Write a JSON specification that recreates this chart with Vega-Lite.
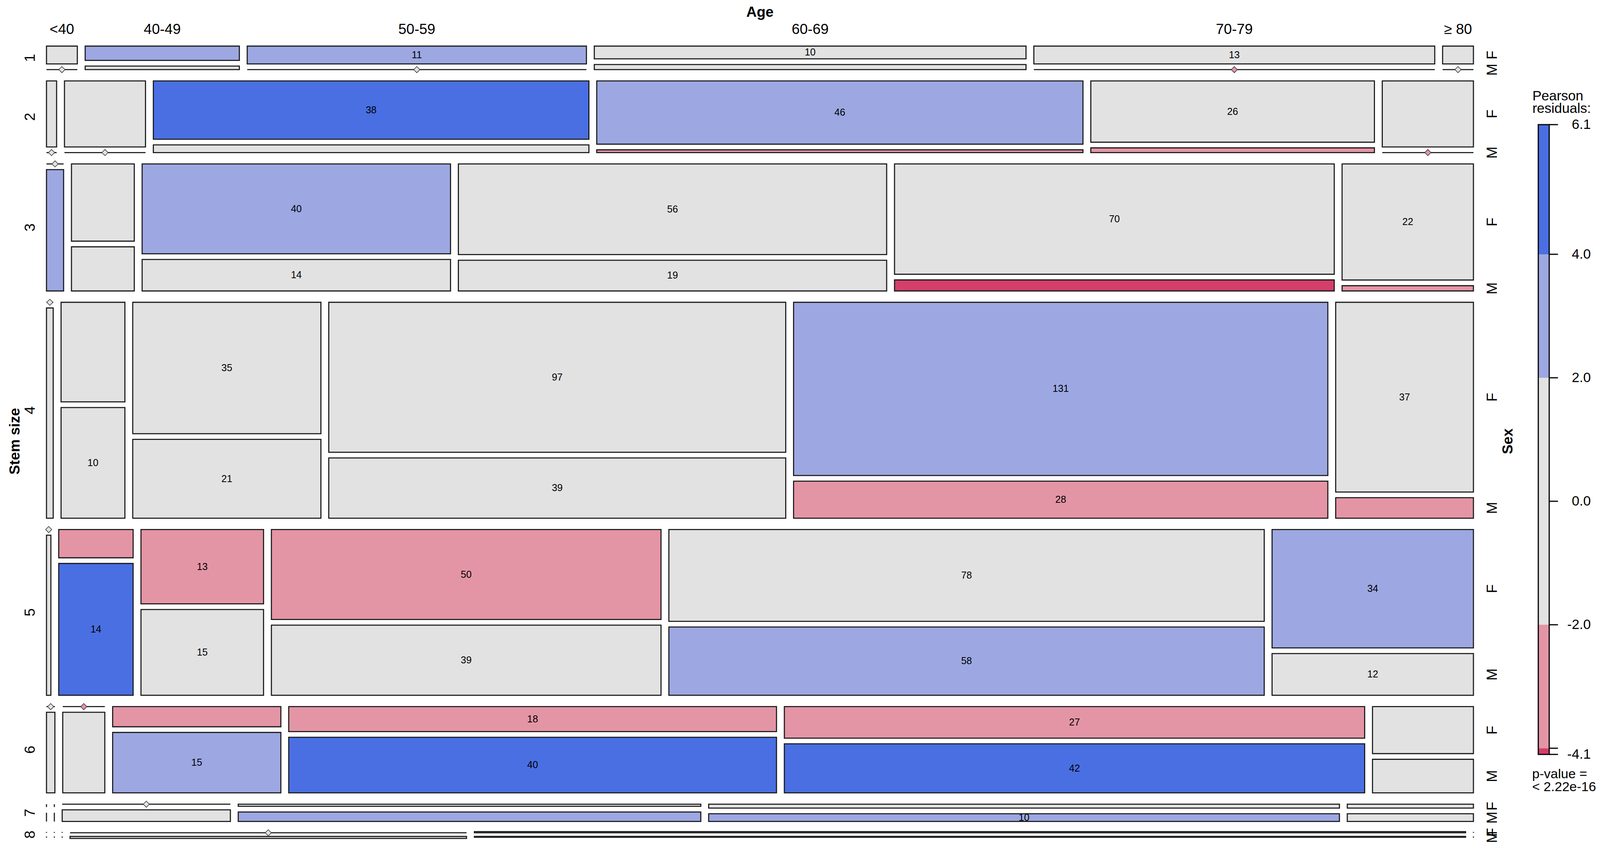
{
  "$schema": "https://vega.github.io/schema/vega-lite/v6.json",
  "width": 4375,
  "height": 2168,
  "autosize": {"type": "fit", "contains": "padding"},
  "padding": 0,
  "background": "white",
  "config": {"view": {"stroke": null}, "font": "Liberation Sans", "text": {"font": "Liberation Sans"}},
  "datasets": {
    "cells": [
      {"stem":1,"age":"<40","sex":"F","n":1},{"stem":1,"age":"<40","sex":"M","n":0},
      {"stem":1,"age":"40-49","sex":"F","n":4},{"stem":1,"age":"40-49","sex":"M","n":1},
      {"stem":1,"age":"50-59","sex":"F","n":11},{"stem":1,"age":"50-59","sex":"M","n":0},
      {"stem":1,"age":"60-69","sex":"F","n":10},{"stem":1,"age":"60-69","sex":"M","n":4},
      {"stem":1,"age":"70-79","sex":"F","n":13},{"stem":1,"age":"70-79","sex":"M","n":0},
      {"stem":1,"age":"≥ 80","sex":"F","n":1},{"stem":1,"age":"≥ 80","sex":"M","n":0},
      {"stem":2,"age":"<40","sex":"F","n":1},{"stem":2,"age":"<40","sex":"M","n":0},
      {"stem":2,"age":"40-49","sex":"F","n":8},{"stem":2,"age":"40-49","sex":"M","n":0},
      {"stem":2,"age":"50-59","sex":"F","n":38},{"stem":2,"age":"50-59","sex":"M","n":5},
      {"stem":2,"age":"60-69","sex":"F","n":46},{"stem":2,"age":"60-69","sex":"M","n":2},
      {"stem":2,"age":"70-79","sex":"F","n":26},{"stem":2,"age":"70-79","sex":"M","n":2},
      {"stem":2,"age":"≥ 80","sex":"F","n":9},{"stem":2,"age":"≥ 80","sex":"M","n":0},
      {"stem":3,"age":"<40","sex":"F","n":0},{"stem":3,"age":"<40","sex":"M","n":3},
      {"stem":3,"age":"40-49","sex":"F","n":7},{"stem":3,"age":"40-49","sex":"M","n":4},
      {"stem":3,"age":"50-59","sex":"F","n":40},{"stem":3,"age":"50-59","sex":"M","n":14},
      {"stem":3,"age":"60-69","sex":"F","n":56},{"stem":3,"age":"60-69","sex":"M","n":19},
      {"stem":3,"age":"70-79","sex":"F","n":70},{"stem":3,"age":"70-79","sex":"M","n":7},
      {"stem":3,"age":"≥ 80","sex":"F","n":22},{"stem":3,"age":"≥ 80","sex":"M","n":1},
      {"stem":4,"age":"<40","sex":"F","n":0},{"stem":4,"age":"<40","sex":"M","n":2},
      {"stem":4,"age":"40-49","sex":"F","n":9},{"stem":4,"age":"40-49","sex":"M","n":10},
      {"stem":4,"age":"50-59","sex":"F","n":35},{"stem":4,"age":"50-59","sex":"M","n":21},
      {"stem":4,"age":"60-69","sex":"F","n":97},{"stem":4,"age":"60-69","sex":"M","n":39},
      {"stem":4,"age":"70-79","sex":"F","n":131},{"stem":4,"age":"70-79","sex":"M","n":28},
      {"stem":4,"age":"≥ 80","sex":"F","n":37},{"stem":4,"age":"≥ 80","sex":"M","n":4},
      {"stem":5,"age":"<40","sex":"F","n":0},{"stem":5,"age":"<40","sex":"M","n":1},
      {"stem":5,"age":"40-49","sex":"F","n":3},{"stem":5,"age":"40-49","sex":"M","n":14},
      {"stem":5,"age":"50-59","sex":"F","n":13},{"stem":5,"age":"50-59","sex":"M","n":15},
      {"stem":5,"age":"60-69","sex":"F","n":50},{"stem":5,"age":"60-69","sex":"M","n":39},
      {"stem":5,"age":"70-79","sex":"F","n":78},{"stem":5,"age":"70-79","sex":"M","n":58},
      {"stem":5,"age":"≥ 80","sex":"F","n":34},{"stem":5,"age":"≥ 80","sex":"M","n":12},
      {"stem":6,"age":"<40","sex":"F","n":0},{"stem":6,"age":"<40","sex":"M","n":1},
      {"stem":6,"age":"40-49","sex":"F","n":0},{"stem":6,"age":"40-49","sex":"M","n":5},
      {"stem":6,"age":"50-59","sex":"F","n":5},{"stem":6,"age":"50-59","sex":"M","n":15},
      {"stem":6,"age":"60-69","sex":"F","n":18},{"stem":6,"age":"60-69","sex":"M","n":40},
      {"stem":6,"age":"70-79","sex":"F","n":27},{"stem":6,"age":"70-79","sex":"M","n":42},
      {"stem":6,"age":"≥ 80","sex":"F","n":7},{"stem":6,"age":"≥ 80","sex":"M","n":5},
      {"stem":7,"age":"<40","sex":"F","n":0},{"stem":7,"age":"<40","sex":"M","n":0},
      {"stem":7,"age":"40-49","sex":"F","n":0},{"stem":7,"age":"40-49","sex":"M","n":0},
      {"stem":7,"age":"50-59","sex":"F","n":0},{"stem":7,"age":"50-59","sex":"M","n":4},
      {"stem":7,"age":"60-69","sex":"F","n":2},{"stem":7,"age":"60-69","sex":"M","n":9},
      {"stem":7,"age":"70-79","sex":"F","n":5},{"stem":7,"age":"70-79","sex":"M","n":10},
      {"stem":7,"age":"≥ 80","sex":"F","n":1},{"stem":7,"age":"≥ 80","sex":"M","n":2},
      {"stem":8,"age":"<40","sex":"F","n":0},{"stem":8,"age":"<40","sex":"M","n":0},
      {"stem":8,"age":"40-49","sex":"F","n":0},{"stem":8,"age":"40-49","sex":"M","n":0},
      {"stem":8,"age":"50-59","sex":"F","n":0},{"stem":8,"age":"50-59","sex":"M","n":0},
      {"stem":8,"age":"60-69","sex":"F","n":0},{"stem":8,"age":"60-69","sex":"M","n":2},
      {"stem":8,"age":"70-79","sex":"F","n":3},{"stem":8,"age":"70-79","sex":"M","n":2},
      {"stem":8,"age":"≥ 80","sex":"F","n":0},{"stem":8,"age":"≥ 80","sex":"M","n":0}
    ],
    "bins": [
      {"lo": -4.1, "hi": -4},
      {"lo": -4, "hi": -2},
      {"lo": -2, "hi": 2},
      {"lo": 2, "hi": 4},
      {"lo": 4, "hi": 6.1}
    ],
    "ticks": [
      {"v": 6.1, "lab": "6.1"},
      {"v": 4, "lab": "4.0"},
      {"v": 2, "lab": "2.0"},
      {"v": 0, "lab": "0.0"},
      {"v": -2, "lab": "-2.0"},
      {"v": -4, "lab": ""},
      {"v": -4.1, "lab": "-4.1"}
    ]
  },
  "layer": [
    {
      "data": {"name": "cells"},
      "transform": [
        {"calculate": "indexof(['<40','40-49','50-59','60-69','70-79','≥ 80'], datum.age)", "as": "ai"},
        {"calculate": "datum.sex === 'F' ? 0 : 1", "as": "si"},
        {"joinaggregate": [{"op": "sum", "field": "n", "as": "N"}]},
        {"joinaggregate": [{"op": "sum", "field": "n", "as": "rowT"}], "groupby": ["stem"]},
        {"joinaggregate": [{"op": "sum", "field": "n", "as": "ageT"}], "groupby": ["age"]},
        {"joinaggregate": [{"op": "sum", "field": "n", "as": "sexT"}], "groupby": ["sex"]},
        {"joinaggregate": [{"op": "sum", "field": "n", "as": "cellT"}], "groupby": ["stem", "age"]},
        {"joinaggregate": [{"op": "sum", "field": "n", "as": "rowSexT"}], "groupby": ["stem", "sex"]},
        {"window": [{"op": "sum", "field": "n", "as": "cumStem"}], "sort": [{"field": "stem", "order": "ascending"}], "frame": [null, 0], "ignorePeers": false},
        {"window": [{"op": "sum", "field": "n", "as": "cumAge"}], "groupby": ["stem"], "sort": [{"field": "ai", "order": "ascending"}], "frame": [null, 0], "ignorePeers": false},
        {"window": [{"op": "sum", "field": "n", "as": "cumSex"}], "groupby": ["stem", "age"], "sort": [{"field": "si", "order": "ascending"}], "frame": [null, 0], "ignorePeers": false},
        {"calculate": "1820 / datum.N", "as": "s"},
        {"calculate": "(datum.cumStem - datum.rowT) * datum.s + (datum.stem - 1) * 29", "as": "rowTop"},
        {"calculate": "datum.rowT * datum.s", "as": "rowE"},
        {"calculate": "datum.rowE - 14.5", "as": "rowH"},
        {"calculate": "(datum.cumAge - datum.cellT) / datum.rowT * 3552.5 + datum.ai * 20.1", "as": "x0"},
        {"calculate": "datum.x0 + datum.cellT / datum.rowT * 3552.5", "as": "x1"},
        {"calculate": "datum.cellT > 0 ? (datum.cumSex - datum.n) / datum.cellT : (datum.si === 0 ? 0 : (datum.rowT - datum.rowSexT) / datum.rowT)", "as": "fTop"},
        {"calculate": "datum.cellT > 0 ? datum.n / datum.cellT : datum.rowSexT / datum.rowT", "as": "fH"},
        {"calculate": "datum.rowTop + datum.fTop * datum.rowH + datum.si * 14.5", "as": "y0"},
        {"calculate": "datum.y0 + datum.fH * datum.rowH", "as": "y1"},
        {"calculate": "(datum.x0 + datum.x1) / 2", "as": "xm"},
        {"calculate": "(datum.y0 + datum.y1) / 2", "as": "ym"},
        {"calculate": "datum.rowTop + datum.rowE / 2", "as": "rowMid"},
        {"calculate": "datum.rowT * datum.ageT * datum.sexT / (datum.N * datum.N)", "as": "e"},
        {"calculate": "(datum.n - datum.e) / sqrt(datum.e)", "as": "resid"}
      ],
      "layer": [
        {
          "mark": {"type": "rect", "stroke": "#1a1a1a", "strokeWidth": 2.8},
          "encoding": {
            "x": {"field": "x0", "type": "quantitative", "axis": null, "scale": {"domain": [0, 3653], "range": [119, 3772], "nice": false, "zero": false}},
            "x2": {"field": "x1"},
            "y": {"field": "y0", "type": "quantitative", "axis": null, "scale": {"domain": [0, 2023], "range": [118, 2141], "nice": false, "zero": false}},
            "y2": {"field": "y1"},
            "color": {"field": "resid", "type": "quantitative", "legend": null, "scale": {"type": "threshold", "domain": [-4, -2, 2, 4], "range": ["#D33F6A", "#E495A5", "#E2E2E2", "#9DA8E2", "#4A6FE3"]}}
          }
        },
        {
          "transform": [{"filter": "datum.n === 0 && datum.cellT > 0"}],
          "mark": {"type": "point", "shape": "diamond", "filled": true, "size": 250, "stroke": "#333333", "strokeWidth": 1.5, "opacity": 1},
          "encoding": {
            "x": {"field": "xm", "type": "quantitative", "axis": null, "scale": {"domain": [0, 3653], "range": [119, 3772], "nice": false, "zero": false}},
            "y": {"field": "y0", "type": "quantitative", "axis": null, "scale": {"domain": [0, 2023], "range": [118, 2141], "nice": false, "zero": false}},
            "color": {"field": "resid", "type": "quantitative", "legend": null, "scale": {"type": "threshold", "domain": [-4, -2, 2, 4], "range": ["#D33F6A", "#E495A5", "#E2E2E2", "#9DA8E2", "#4A6FE3"]}}
          }
        },
        {
          "transform": [{"filter": "datum.n >= 10"}],
          "mark": {"type": "text", "fontSize": 25, "color": "black", "align": "center", "baseline": "middle"},
          "encoding": {
            "x": {"field": "xm", "type": "quantitative", "axis": null, "scale": {"domain": [0, 3653], "range": [119, 3772], "nice": false, "zero": false}},
            "y": {"field": "ym", "type": "quantitative", "axis": null, "scale": {"domain": [0, 2023], "range": [118, 2141], "nice": false, "zero": false}},
            "text": {"field": "n", "type": "nominal"}
          }
        },
        {
          "transform": [{"filter": "datum.stem === 1 && datum.si === 0"}],
          "mark": {"type": "text", "fontSize": 37, "color": "black", "align": "center", "baseline": "middle"},
          "encoding": {
            "x": {"field": "xm", "type": "quantitative", "axis": null, "scale": {"domain": [0, 3653], "range": [119, 3772], "nice": false, "zero": false}},
            "y": {"datum": -42.5, "type": "quantitative", "axis": null, "scale": {"domain": [0, 2023], "range": [118, 2141], "nice": false, "zero": false}},
            "text": {"field": "age", "type": "nominal"}
          }
        },
        {
          "transform": [{"filter": "datum.ai === 0 && datum.si === 0"}],
          "mark": {"type": "text", "fontSize": 37, "color": "black", "align": "center", "baseline": "middle", "angle": 270},
          "encoding": {
            "x": {"datum": -41.3, "type": "quantitative", "axis": null, "scale": {"domain": [0, 3653], "range": [119, 3772], "nice": false, "zero": false}},
            "y": {"field": "rowMid", "type": "quantitative", "axis": null, "scale": {"domain": [0, 2023], "range": [118, 2141], "nice": false, "zero": false}},
            "text": {"field": "stem", "type": "nominal"}
          }
        },
        {
          "transform": [{"filter": "datum.ai === 5"}],
          "mark": {"type": "text", "fontSize": 37, "color": "black", "align": "center", "baseline": "middle", "angle": 270},
          "encoding": {
            "x": {"datum": 3701.8, "type": "quantitative", "axis": null, "scale": {"domain": [0, 3653], "range": [119, 3772], "nice": false, "zero": false}},
            "y": {"field": "ym", "type": "quantitative", "axis": null, "scale": {"domain": [0, 2023], "range": [118, 2141], "nice": false, "zero": false}},
            "text": {"field": "sex", "type": "nominal"}
          }
        },
        {
          "data": {"values": [{"label": "Age"}]},
          "mark": {"type": "text", "fontSize": 37, "fontWeight": "bold", "color": "black", "align": "center", "baseline": "middle"},
          "encoding": {
            "x": {"datum": 1826.5, "type": "quantitative", "axis": null, "scale": {"domain": [0, 3653], "range": [119, 3772], "nice": false, "zero": false}},
            "y": {"datum": -86, "type": "quantitative", "axis": null, "scale": {"domain": [0, 2023], "range": [118, 2141], "nice": false, "zero": false}},
            "text": {"field": "label", "type": "nominal"}
          }
        },
        {
          "data": {"values": [{"label": "Stem size"}]},
          "mark": {"type": "text", "fontSize": 37, "fontWeight": "bold", "color": "black", "align": "center", "baseline": "middle", "angle": 270},
          "encoding": {
            "x": {"datum": -79.7, "type": "quantitative", "axis": null, "scale": {"domain": [0, 3653], "range": [119, 3772], "nice": false, "zero": false}},
            "y": {"datum": 1011.5, "type": "quantitative", "axis": null, "scale": {"domain": [0, 2023], "range": [118, 2141], "nice": false, "zero": false}},
            "text": {"field": "label", "type": "nominal"}
          }
        },
        {
          "data": {"values": [{"label": "Sex"}]},
          "mark": {"type": "text", "fontSize": 37, "fontWeight": "bold", "color": "black", "align": "center", "baseline": "middle", "angle": 270},
          "encoding": {
            "x": {"datum": 3742, "type": "quantitative", "axis": null, "scale": {"domain": [0, 3653], "range": [119, 3772], "nice": false, "zero": false}},
            "y": {"datum": 1011.5, "type": "quantitative", "axis": null, "scale": {"domain": [0, 2023], "range": [118, 2141], "nice": false, "zero": false}},
            "text": {"field": "label", "type": "nominal"}
          }
        }
      ]
    },
    {
      "data": {"name": "bins"},
      "layer": [
        {
          "mark": {"type": "rect", "strokeWidth": 0},
          "encoding": {
            "x": {"datum": 0, "type": "quantitative", "axis": null, "scale": {"domain": [0, 1], "range": [3938, 3966], "nice": false, "zero": false}},
            "x2": {"datum": 1},
            "y": {"field": "lo", "type": "quantitative", "axis": null, "scale": {"domain": [-4.1, 6.1], "range": [1931, 319], "nice": false, "zero": false}},
            "y2": {"field": "hi"},
            "color": {"field": "lo", "type": "quantitative", "legend": null, "scale": {"type": "threshold", "domain": [-4, -2, 2, 4], "range": ["#D33F6A", "#E495A5", "#E2E2E2", "#9DA8E2", "#4A6FE3"]}}
          }
        },
        {
          "transform": [{"aggregate": [{"op": "min", "field": "lo", "as": "lo"}, {"op": "max", "field": "hi", "as": "hi"}]}],
          "mark": {"type": "rect", "fill": "white", "fillOpacity": 0, "stroke": "black", "strokeWidth": 3},
          "encoding": {
            "x": {"datum": 0, "type": "quantitative", "axis": null, "scale": {"domain": [0, 1], "range": [3938, 3966], "nice": false, "zero": false}},
            "x2": {"datum": 1},
            "y": {"field": "lo", "type": "quantitative", "axis": null, "scale": {"domain": [-4.1, 6.1], "range": [1931, 319], "nice": false, "zero": false}},
            "y2": {"field": "hi"}
          }
        },
        {
          "data": {"name": "ticks"},
          "mark": {"type": "rule", "color": "black", "strokeWidth": 3},
          "encoding": {
            "x": {"datum": 1, "type": "quantitative", "axis": null, "scale": {"domain": [0, 1], "range": [3938, 3966], "nice": false, "zero": false}},
            "x2": {"datum": 1.8},
            "y": {"field": "v", "type": "quantitative", "axis": null, "scale": {"domain": [-4.1, 6.1], "range": [1931, 319], "nice": false, "zero": false}}
          }
        },
        {
          "data": {"name": "ticks"},
          "transform": [{"filter": "datum.lab !== ''"}],
          "mark": {"type": "text", "fontSize": 35, "color": "black", "align": "right", "baseline": "middle"},
          "encoding": {
            "x": {"datum": 4.8, "type": "quantitative", "axis": null, "scale": {"domain": [0, 1], "range": [3938, 3966], "nice": false, "zero": false}},
            "y": {"field": "v", "type": "quantitative", "axis": null, "scale": {"domain": [-4.1, 6.1], "range": [1931, 319], "nice": false, "zero": false}},
            "text": {"field": "lab", "type": "nominal"}
          }
        },
        {
          "data": {"values": [{"label": "Pearson residuals:"}]},
          "mark": {"type": "text", "fontSize": 35, "color": "black", "align": "left", "baseline": "alphabetic", "lineHeight": 32, "text": ["Pearson", "residuals:"]},
          "encoding": {
            "x": {"datum": -0.54, "type": "quantitative", "axis": null, "scale": {"domain": [0, 1], "range": [3938, 3966], "nice": false, "zero": false}},
            "y": {"datum": 6.49, "type": "quantitative", "axis": null, "scale": {"domain": [-4.1, 6.1], "range": [1931, 319], "nice": false, "zero": false}}
          }
        },
        {
          "data": {"values": [{"label": "p-value = < 2.22e-16"}]},
          "mark": {"type": "text", "fontSize": 34, "color": "black", "align": "left", "baseline": "alphabetic", "lineHeight": 33, "text": ["p-value =", "< 2.22e-16"]},
          "encoding": {
            "x": {"datum": -0.56, "type": "quantitative", "axis": null, "scale": {"domain": [0, 1], "range": [3938, 3966], "nice": false, "zero": false}},
            "y": {"datum": -4.486, "type": "quantitative", "axis": null, "scale": {"domain": [-4.1, 6.1], "range": [1931, 319], "nice": false, "zero": false}}
          }
        }
      ]
    }
  ],
  "resolve": {"scale": {"x": "independent", "y": "independent", "color": "independent"}}
}
